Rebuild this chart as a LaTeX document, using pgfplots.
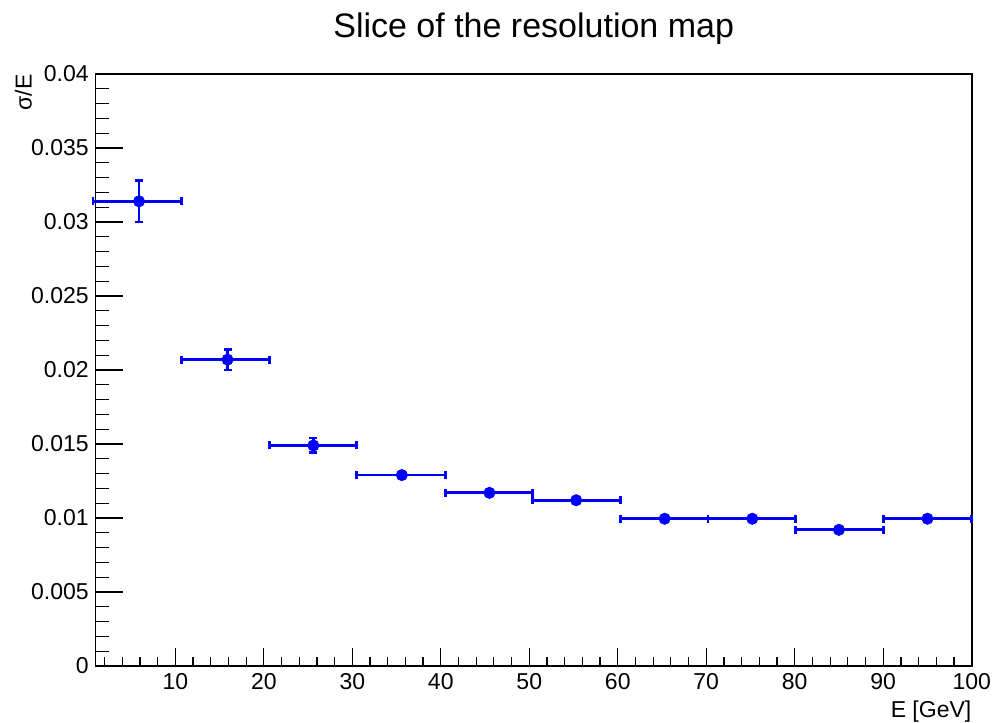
\documentclass[border=0pt]{standalone}
\usepackage{fontspec}
\setmainfont{Liberation Sans}
\usepackage{pgfplots}
\pgfplotsset{compat=1.18}
\usepackage{pgfplotstable}

% sigma/E per energy bin: centre, value, bin half-widths, error
\pgfplotstableread{
x    y       xm   xp   ey
5.9  0.0314  5.2  4.8  0.0014
15.9 0.0207  5.2  4.7  0.0007
25.6 0.0149  5.0  4.9  0.0005
35.6 0.0129  5.1  4.9  0.0002
45.5 0.0117  5.0  4.9  0.00015
55.3 0.0112  4.9  5.0  0.00015
65.3 0.00995 5.0  4.9  0.0001
75.2 0.00995 5.0  4.9  0.0001
85.0 0.0092  4.9  5.0  0.0001
95.0 0.00995 5.0  5.0  0.0001
}\resdata

\begin{document}
\begin{tikzpicture}
\begin{axis}[
  scale only axis,
  width=438pt, height=296pt,
  xmin=1, xmax=100, ymin=0, ymax=0.04,
  clip=false,
  axis line style={line width=0.8pt},
  tick align=inside, tick pos=left,
  xtick={10,20,...,100},
  minor xtick={2,4,...,98},
  ytick={0,0.005,0.01,0.015,0.02,0.025,0.03,0.035,0.04},
  minor ytick={0.001,0.002,0.003,0.004,0.006,0.007,0.008,0.009,
    0.011,0.012,0.013,0.014,0.016,0.017,0.018,0.019,
    0.021,0.022,0.023,0.024,0.026,0.027,0.028,0.029,
    0.031,0.032,0.033,0.034,0.036,0.037,0.038,0.039},
  scaled y ticks=false,
  yticklabel style={/pgf/number format/fixed, /pgf/number format/precision=3},
  /pgf/number format/assume math mode=true,
  ticklabel style={font=\fontsize{11.5}{13}\selectfont},
  tick style={black, line width=0.6pt},
  major tick length=13.5pt, minor tick length=6.5pt,
  major x tick style={/pgfplots/major tick length=9pt},
  minor x tick style={/pgfplots/minor tick length=4.5pt},
]
\addplot+[blue, mark=*, only marks,
  mark options={blue, scale=1.4},
  error bars/.cd,
    x dir=both, x explicit, y dir=both, y explicit,
    error bar style={blue, line width=1.4pt},
    error mark options={rotate=90, blue, mark size=2pt, line width=1.4pt}]
  table[x=x, y=y, x error plus=xp, x error minus=xm, y error=ey] {\resdata};

\coordinate (sw) at (rel axis cs:0,0);
\coordinate (ne) at (rel axis cs:1,1);
\node[anchor=base, yshift=18pt, inner sep=0, font=\fontsize{17}{20}\selectfont]
  at (rel axis cs:0.5,1) {Slice of the resolution map};
\node[anchor=north east, yshift=-17pt, inner sep=0, font=\fontsize{11.5}{13}\selectfont]
  at (rel axis cs:1,0) {E [GeV]};
\node[xshift=-32pt, anchor=base east, rotate=90, inner sep=0, font=\fontsize{11.5}{13}\selectfont]
  at (rel axis cs:0,1) {σ/E};
\end{axis}
\pgfresetboundingbox
\path ([shift={(-47.85pt,-28pt)}]sw) rectangle ([shift={(10.15pt,37pt)}]ne);
\end{tikzpicture}
\end{document}
